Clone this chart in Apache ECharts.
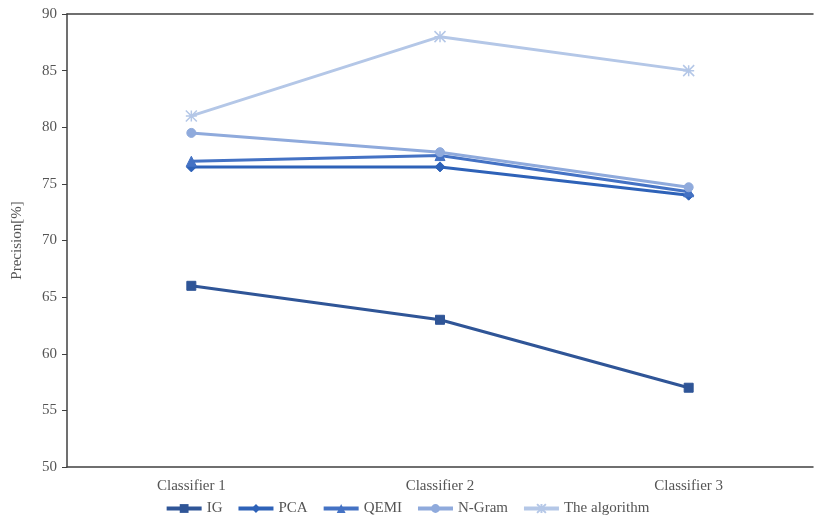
<!DOCTYPE html>
<html>
<head>
<meta charset="utf-8">
<script src="https://cdn.jsdelivr.net/npm/echarts@6/dist/echarts.min.js"></script>
<style>html,body{margin:0;padding:0;background:#fff;}#c{width:814px;height:521px;}</style>
</head>
<body>
<div id="c"></div>
<script>
var categories = ['Classifier 1', 'Classifier 2', 'Classifier 3'];
var seriesNames = ['IG', 'PCA', 'QEMI', 'N-Gram', 'The algorithm'];
var igValues = [66, 63, 57];
var pcaValues = [76.5, 76.5, 74];
var qemiValues = [77, 77.5, 74.3];
var ngramValues = [79.5, 77.8, 74.7];
var algorithmValues = [81, 88, 85];
var yTicks = [50, 55, 60, 65, 70, 75, 80, 85, 90];

var colors = ['#2F5597', '#2E62B8', '#4472C4', '#8FAADC', '#B4C7E7'];
var symbols = ['rect', 'diamond', 'triangle', 'circle', 'path://M0,0L10,10M10,0L0,10M5,0L5,10M0,5L10,5'];
var symbolSizes = [9, 10, 10, 9, 11];
var allValues = [igValues, pcaValues, qemiValues, ngramValues, algorithmValues];
var font = 'Liberation Serif';
var textColor = '#555555';

var chart = echarts.init(document.getElementById('c'));
var series = seriesNames.map(function (n, i) {
  var s = {
    name: n, type: 'line', data: allValues[i],
    symbol: symbols[i], symbolSize: symbolSizes[i],
    showAllSymbol: true,
    lineStyle: { width: 3, color: colors[i] },
    itemStyle: { color: colors[i], borderColor: colors[i] },
    z: 2 + i
  };
  if (i === 4) {
    s.itemStyle = { color: colors[i], borderColor: colors[i], borderWidth: 1.5 };
  }
  return s;
});
chart.setOption({
  animation: false,
  backgroundColor: '#fff',
  color: colors,
  grid: { left: 67, right: 1, top: 14, bottom: 54, containLabel: false },
  legend: {
    bottom: 0, left: 'center', itemWidth: 35, itemHeight: 11, itemGap: 14,
    lineStyle: { width: 4 },
    textStyle: { fontFamily: font, fontSize: 15, color: textColor },
    data: seriesNames
  },
  xAxis: [{
    type: 'category', data: categories, boundaryGap: true,
    axisLine: { lineStyle: { color: '#404040', width: 1.5 } },
    axisTick: { show: false },
    axisLabel: { fontFamily: font, fontSize: 15, color: textColor, margin: 12 },
    splitLine: { show: false }
  }, {
    type: 'category', data: categories, position: 'top',
    axisLine: { lineStyle: { color: '#404040', width: 1.5 } },
    axisTick: { show: false }, axisLabel: { show: false }
  }],
  yAxis: {
    type: 'value', min: yTicks[0], max: yTicks[yTicks.length - 1], interval: 5,
    name: 'Precision[%]', nameLocation: 'middle', nameGap: 42,
    nameTextStyle: { fontFamily: font, fontSize: 15, color: textColor },
    axisLine: { show: true, lineStyle: { color: '#404040', width: 1.5 } },
    axisTick: { show: true, inside: false, length: 5, lineStyle: { color: '#404040' } },
    axisLabel: { fontFamily: font, fontSize: 15, color: textColor, margin: 10 },
    splitLine: { show: false }
  },
  series: series
});
</script>
</body>
</html>
